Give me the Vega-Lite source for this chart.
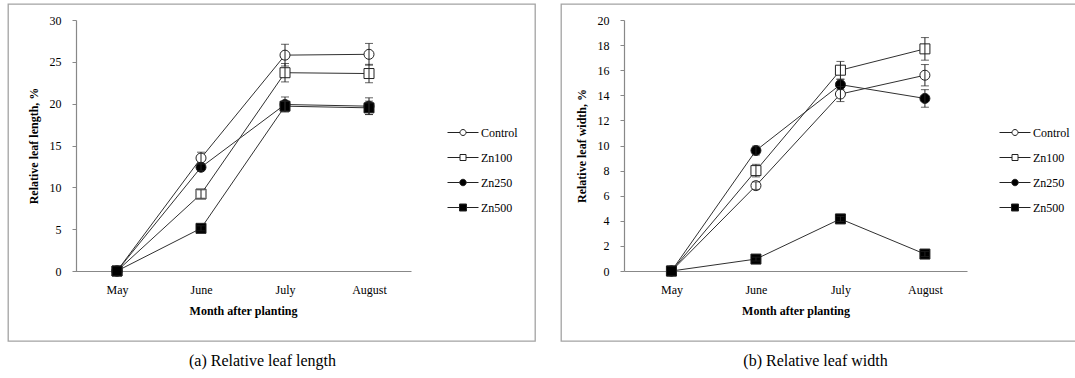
{
  "$schema": "https://vega.github.io/schema/vega-lite/v6.json",
  "padding": {"left": 7, "top": 3, "right": 0, "bottom": 0},
  "background": "white",
  "spacing": 24,
  "datasets": {
    "length": [
      {"month": "May", "series": "Control", "value": 0, "err": 0},
      {"month": "June", "series": "Control", "value": 13.5, "err": 0.7},
      {"month": "July", "series": "Control", "value": 25.8, "err": 1.3},
      {"month": "August", "series": "Control", "value": 25.9, "err": 1.3},
      {"month": "May", "series": "Zn100", "value": 0, "err": 0},
      {"month": "June", "series": "Zn100", "value": 9.2, "err": 0.5},
      {"month": "July", "series": "Zn100", "value": 23.7, "err": 1.1},
      {"month": "August", "series": "Zn100", "value": 23.6, "err": 1.1},
      {"month": "May", "series": "Zn250", "value": 0, "err": 0},
      {"month": "June", "series": "Zn250", "value": 12.4, "err": 0.4},
      {"month": "July", "series": "Zn250", "value": 19.9, "err": 0.9},
      {"month": "August", "series": "Zn250", "value": 19.7, "err": 1.0},
      {"month": "May", "series": "Zn500", "value": 0, "err": 0},
      {"month": "June", "series": "Zn500", "value": 5.1, "err": 0.3},
      {"month": "July", "series": "Zn500", "value": 19.7, "err": 0.6},
      {"month": "August", "series": "Zn500", "value": 19.5, "err": 0.8}
    ],
    "width": [
      {"month": "May", "series": "Control", "value": 0, "err": 0},
      {"month": "June", "series": "Control", "value": 6.8, "err": 0.3},
      {"month": "July", "series": "Control", "value": 14.1, "err": 0.6},
      {"month": "August", "series": "Control", "value": 15.6, "err": 0.85},
      {"month": "May", "series": "Zn100", "value": 0, "err": 0},
      {"month": "June", "series": "Zn100", "value": 8.0, "err": 0.5},
      {"month": "July", "series": "Zn100", "value": 16.0, "err": 0.7},
      {"month": "August", "series": "Zn100", "value": 17.7, "err": 0.9},
      {"month": "May", "series": "Zn250", "value": 0, "err": 0},
      {"month": "June", "series": "Zn250", "value": 9.6, "err": 0.35},
      {"month": "July", "series": "Zn250", "value": 14.85, "err": 0.4},
      {"month": "August", "series": "Zn250", "value": 13.75, "err": 0.7},
      {"month": "May", "series": "Zn500", "value": 0, "err": 0},
      {"month": "June", "series": "Zn500", "value": 0.95, "err": 0.15},
      {"month": "July", "series": "Zn500", "value": 4.15, "err": 0.2},
      {"month": "August", "series": "Zn500", "value": 1.35, "err": 0.2}
    ]
  },
  "hconcat": [
    {
      "width": 527,
      "height": 337,
      "data": {"name": "length"},
      "title": {"text": "(a) Relative leaf length", "orient": "bottom", "offset": 12, "dx": -9},
      "encoding": {
        "x": {
          "field": "month", "type": "ordinal",
          "scale": {"type": "point", "domain": ["May", "June", "July", "August"], "range": [67, 403], "padding": 0.5},
          "axis": {"title": "Month after planting", "offset": -70, "labelAngle": 0, "ticks": false, "tickSize": 0, "labelPadding": 13, "titlePadding": 10}
        },
        "y": {
          "field": "value", "type": "quantitative",
          "scale": {"domain": [0, 30], "range": [267, 16], "nice": false},
          "axis": {"title": "Relative leaf length, %", "offset": -68, "values": [0, 5, 10, 15, 20, 25, 30], "titlePadding": 9}
        }
      },
      "layer": [
        {"mark": {"type": "line", "color": "#303030", "strokeWidth": 1}, "encoding": {"detail": {"field": "series"}}},
        {
          "mark": {"type": "point", "filled": true, "stroke": "#222", "strokeWidth": 1, "opacity": 1, "size": 100},
          "encoding": {
            "shape": {"field": "series", "type": "nominal", "scale": {"domain": ["Control", "Zn100", "Zn250", "Zn500"], "range": ["circle", "square", "circle", "square"]}, "legend": null},
            "fill": {"field": "series", "type": "nominal", "scale": {"domain": ["Control", "Zn100", "Zn250", "Zn500"], "range": ["white", "white", "black", "black"]}, "legend": null}
          }
        },
        {
          "transform": [{"filter": "datum.err > 0"}],
          "mark": {"type": "errorbar", "ticks": {"size": 8, "color": "#222"}, "rule": {"color": "#222"}},
          "encoding": {"yError": {"field": "err"}}
        },
        {
          "transform": [{"filter": "datum.value < 0"}],
          "mark": {"type": "point", "filled": true, "strokeWidth": 1, "opacity": 1},
          "encoding": {
            "shape": {"field": "series", "type": "nominal", "scale": {"domain": ["Control", "Zn100", "Zn250", "Zn500"], "range": [
              "M-1.24,0L-0.24,0M0.24,0L1.24,0M-0.24,0C-0.24,-0.1325,-0.1325,-0.24,0,-0.24C0.1325,-0.24,0.24,-0.1325,0.24,0C0.24,0.1325,0.1325,0.24,0,0.24C-0.1325,0.24,-0.24,0.1325,-0.24,0Z",
              "M-1.24,0L-0.24,0M0.24,0L1.24,0M-0.24,-0.24L0.24,-0.24L0.24,0.24L-0.24,0.24Z",
              "M-1.24,0L-0.26,0M0.26,0L1.24,0M-0.26,0C-0.26,-0.1436,-0.1436,-0.26,0,-0.26C0.1436,-0.26,0.26,-0.1436,0.26,0C0.26,0.1436,0.1436,0.26,0,0.26C-0.1436,0.26,-0.26,0.1436,-0.26,0Z",
              "M-1.24,0L-0.28,0M0.28,0L1.24,0M-0.28,-0.28L0.28,-0.28L0.28,0.28L-0.28,0.28Z"
            ]}, "legend": {"orient": "none", "legendX": 442, "legendY": 115.5, "title": null}},
            "fill": {"field": "series", "type": "nominal", "scale": {"domain": ["Control", "Zn100", "Zn250", "Zn500"], "range": ["white", "white", "black", "black"]}, "legend": {"orient": "none", "legendX": 442, "legendY": 115.5, "title": null}},
            "stroke": {"field": "series", "type": "nominal", "scale": {"domain": ["Control", "Zn100", "Zn250", "Zn500"], "range": ["#222222", "#222222", "#222222", "#222222"]}, "legend": {"orient": "none", "legendX": 442, "legendY": 115.5, "title": null}}
          }
        }
      ],
      "resolve": {"scale": {"shape": "independent", "fill": "independent", "stroke": "independent"}}
    },
    {
      "width": 519,
      "height": 337,
      "data": {"name": "width"},
      "title": {"text": "(b) Relative leaf width", "orient": "bottom", "offset": 12, "dx": -5},
      "encoding": {
        "x": {
          "field": "month", "type": "ordinal",
          "scale": {"type": "point", "domain": ["May", "June", "July", "August"], "range": [63, 406], "padding": 0.53, "align": 0.53},
          "axis": {"title": "Month after planting", "offset": -70, "labelAngle": 0, "ticks": false, "tickSize": 0, "labelPadding": 13, "titlePadding": 10}
        },
        "y": {
          "field": "value", "type": "quantitative",
          "scale": {"domain": [0, 20], "range": [267, 16], "nice": false},
          "axis": {"title": "Relative leaf width, %", "offset": -63, "values": [0, 2, 4, 6, 8, 10, 12, 14, 16, 18, 20], "titlePadding": 9}
        }
      },
      "layer": [
        {"mark": {"type": "line", "color": "#303030", "strokeWidth": 1}, "encoding": {"detail": {"field": "series"}}},
        {
          "mark": {"type": "point", "filled": true, "stroke": "#222", "strokeWidth": 1, "opacity": 1, "size": 100},
          "encoding": {
            "shape": {"field": "series", "type": "nominal", "scale": {"domain": ["Control", "Zn100", "Zn250", "Zn500"], "range": ["circle", "square", "circle", "square"]}, "legend": null},
            "fill": {"field": "series", "type": "nominal", "scale": {"domain": ["Control", "Zn100", "Zn250", "Zn500"], "range": ["white", "white", "black", "black"]}, "legend": null}
          }
        },
        {
          "transform": [{"filter": "datum.err > 0"}],
          "mark": {"type": "errorbar", "ticks": {"size": 8, "color": "#222"}, "rule": {"color": "#222"}},
          "encoding": {"yError": {"field": "err"}}
        },
        {
          "transform": [{"filter": "datum.value < 0"}],
          "mark": {"type": "point", "filled": true, "strokeWidth": 1, "opacity": 1},
          "encoding": {
            "shape": {"field": "series", "type": "nominal", "scale": {"domain": ["Control", "Zn100", "Zn250", "Zn500"], "range": [
              "M-1.24,0L-0.24,0M0.24,0L1.24,0M-0.24,0C-0.24,-0.1325,-0.1325,-0.24,0,-0.24C0.1325,-0.24,0.24,-0.1325,0.24,0C0.24,0.1325,0.1325,0.24,0,0.24C-0.1325,0.24,-0.24,0.1325,-0.24,0Z",
              "M-1.24,0L-0.24,0M0.24,0L1.24,0M-0.24,-0.24L0.24,-0.24L0.24,0.24L-0.24,0.24Z",
              "M-1.24,0L-0.26,0M0.26,0L1.24,0M-0.26,0C-0.26,-0.1436,-0.1436,-0.26,0,-0.26C0.1436,-0.26,0.26,-0.1436,0.26,0C0.26,0.1436,0.1436,0.26,0,0.26C-0.1436,0.26,-0.26,0.1436,-0.26,0Z",
              "M-1.24,0L-0.28,0M0.28,0L1.24,0M-0.28,-0.28L0.28,-0.28L0.28,0.28L-0.28,0.28Z"
            ]}, "legend": {"orient": "none", "legendX": 441, "legendY": 115.5, "title": null}},
            "fill": {"field": "series", "type": "nominal", "scale": {"domain": ["Control", "Zn100", "Zn250", "Zn500"], "range": ["white", "white", "black", "black"]}, "legend": {"orient": "none", "legendX": 441, "legendY": 115.5, "title": null}},
            "stroke": {"field": "series", "type": "nominal", "scale": {"domain": ["Control", "Zn100", "Zn250", "Zn500"], "range": ["#222222", "#222222", "#222222", "#222222"]}, "legend": {"orient": "none", "legendX": 441, "legendY": 115.5, "title": null}}
          }
        }
      ],
      "resolve": {"scale": {"shape": "independent", "fill": "independent", "stroke": "independent"}}
    }
  ],
  "config": {
    "font": "Liberation Serif",
    "view": {"stroke": "#a3a3a3", "strokeWidth": 1.3},
    "title": {"font": "Liberation Serif", "fontSize": 16, "fontWeight": "normal", "color": "black"},
    "axis": {
      "grid": false,
      "labelFont": "Liberation Serif", "labelFontSize": 12, "labelColor": "black",
      "titleFont": "Liberation Serif", "titleFontSize": 12, "titleFontWeight": "bold", "titleColor": "black",
      "domainColor": "#888888", "domainWidth": 1.2, "tickColor": "#888888", "tickSize": 4, "labelPadding": 11
    },
    "legend": {
      "labelFont": "Liberation Serif", "labelFontSize": 12, "labelColor": "black",
      "symbolSize": 625, "labelOffset": 5, "rowPadding": 6, "padding": 0,
      "symbolStrokeWidth": 1
    }
  }
}
